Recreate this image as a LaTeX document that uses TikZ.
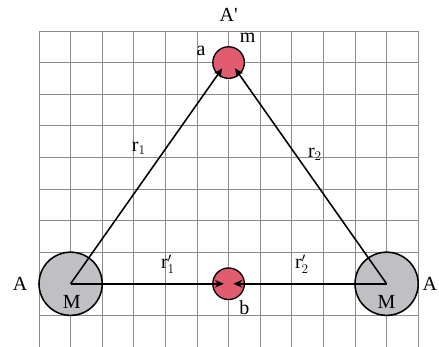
\documentclass[tikz,border=0pt]{standalone}
\usepackage{fontspec}
\setmainfont{Liberation Serif}
\usetikzlibrary{positioning, arrows.meta}

\definecolor{massgray}{RGB}{192,192,196}
\definecolor{testred}{RGB}{226,92,112}

\begin{document}
\begin{tikzpicture}[
    >={Stealth[length=8pt, width=7pt]},
    font = \fontsize{18}{21}\selectfont,
    %% ── node styles ──────────────────────────────────────────
    bigmass/.style   = {circle, draw, line width=1.4pt, fill=massgray,
                        minimum size=2cm, inner sep=0pt},
    smallmass/.style = {circle, draw, line width=1.2pt, fill=testred,
                        minimum size=1cm, inner sep=0pt},
    lbl/.style       = {inner sep=1pt},
    arr/.style       = {->, line width=1.4pt}
]
\useasboundingbox (-1.234,0) rectangle (12.658,10.98);

%% ── Background grid ──────────────────────────────────────────
\draw[gray!90, line width=0.7pt] (0,0) grid (12,10);

%% ── Masses ───────────────────────────────────────────────────
\node[bigmass]   (massL)  at (1,2)  {};
\node[bigmass]   (massR)  at (11,2) {};
\node[smallmass] (smallA) at (6,9)  {};
\node[smallmass] (smallB) at (6,2)  {};

%% ── Arrow tips ───────────────────────────────────────────────
\coordinate (tipA1) at (5.8,8.82);
\coordinate (tipA2) at (6.2,8.82);
\coordinate (tipB1) at (5.85,2);
\coordinate (tipB2) at (6.15,2);

%% ── Arrows ───────────────────────────────────────────────────
\draw[arr] (massL.center) -- (tipA1);
\draw[arr] (massR.center) -- (tipA2);
\draw[arr] (massL.center) -- (tipB1);
\draw[arr] (massR.center) -- (tipB2);

%% ── Labels ───────────────────────────────────────────────────
\node[lbl] (labAp) at (6.0,10.5)  {A\textquotesingle};
\node[lbl] (labm)  at (6.6,9.78)  {m};
\node[lbl] (laba)  at (5.13,9.36) {a};
\node[lbl] (labr1) at (3.16,6.3)  {r$_1$};
\node[lbl] (labr2) at (8.73,6.1)  {r$_2$};
\node[lbl] (labr1p) at (4.08,2.62) {r$'_1$};
\node[lbl] (labr2p) at (8.32,2.62) {r$'_2$};
\node[lbl] (labAL) at (-0.6,2.0)  {A};
\node[lbl] (labAR) at (12.37,2.0) {A};
\node[lbl] (labML) at (1.04,1.42) {M};
\node[lbl] (labMR) at (11.0,1.42) {M};
\node[lbl] (labb)  at (6.5,1.25)  {b};

\end{tikzpicture}
\end{document}
